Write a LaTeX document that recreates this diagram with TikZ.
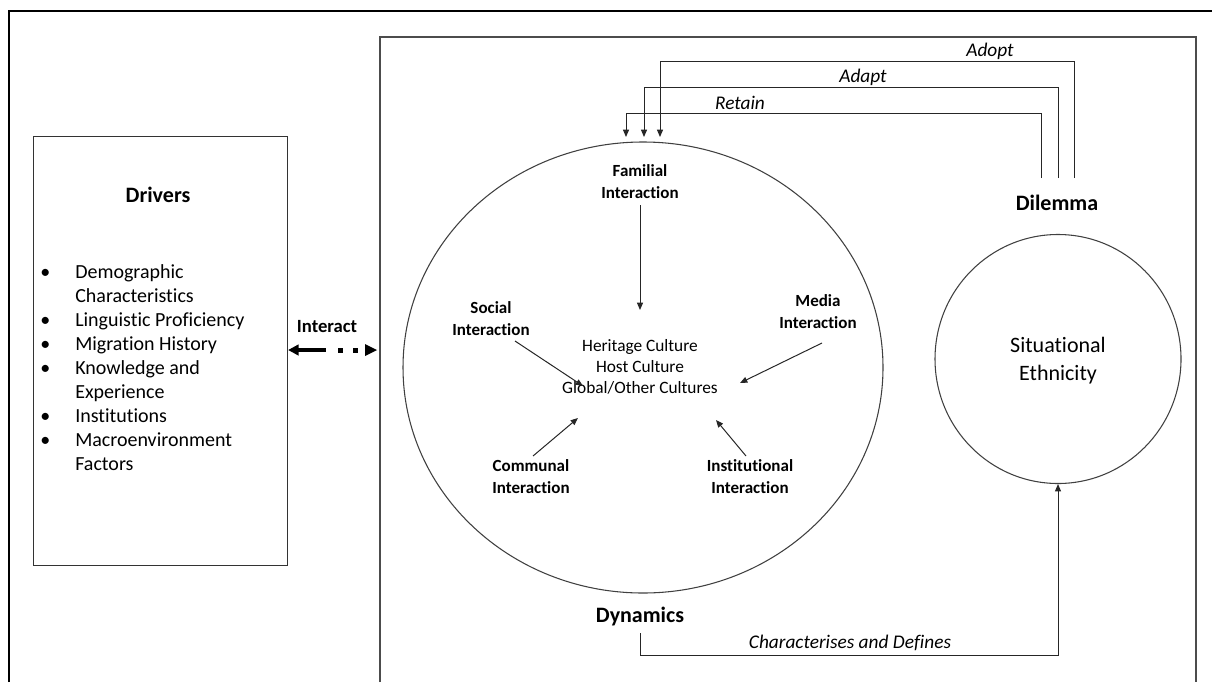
\documentclass[tikz,border=0pt]{standalone}
\usepackage{fontspec}
\setmainfont{Carlito}[Ligatures=NoCommon]
\usetikzlibrary{arrows.meta,shapes.geometric,calc}
\begin{document}
\begin{tikzpicture}[x=0.75pt,y=-0.75pt,
 line/.style={draw=black!85, line width=0.75pt},
 conn/.style={line, -{Triangle[length=5.5pt,width=4.5pt]}},
 title/.style={font=\fontsize{16.5}{20}\selectfont\bfseries, inner sep=0},
 item/.style={font=\fontsize{15}{18}\selectfont, anchor=base west, inner sep=0},
 lbl/.style={font=\fontsize{12.75}{16.5}\selectfont\bfseries, align=center, inner sep=0},
 ctr/.style={font=\fontsize{13}{16}\selectfont, align=center, inner sep=0},
 itl/.style={font=\fontsize{14.5}{17}\selectfont\itshape, inner sep=0},
]
\useasboundingbox (0,0) rectangle (1212,682);
% frames
\draw[line width=1.4pt] (9,682) -- (9,11) -- (1212,11);
\draw[draw=black!70, line width=0.8pt] (380,682) -- (380,37) -- (1196,37) -- (1196,682);
% drivers box
\node[draw=black!80, line width=0.8pt, minimum width=190.5pt, minimum height=321.75pt, inner sep=0, anchor=north west] (drivers) at (33,136) {};
\node[title] (drvt) at (158,195) {Drivers};
\foreach \t/\y [count=\i] in {Demographic/272, Characteristics/296, Linguistic Proficiency/320, Migration History/344, Knowledge and/368, Experience/392, Institutions/416, Macroenvironment/440, Factors/464}
  \node[item] (it\i) at (75,{\y+6}) {\t};
\foreach \y [count=\i] in {272,320,344,368,416,440}
  \node[item] (bu\i) at (40,{\y+6}) {•};
% interact
\node[font=\fontsize{14}{17}\selectfont\bfseries, inner sep=0] (inter) at (327,327) {Interact};
\coordinate (frameL) at (380,350);
\coordinate (dA) at (326,350);
\coordinate (dB) at (365,350);
\draw[line width=2.3pt, {Triangle[length=8pt,width=8pt]}-] (drivers.east |- dA) -- (dA);
\fill (337.5,347.5) rectangle +(5,5);
\fill (352.5,347.5) rectangle +(5,5);
\fill (dB) ++(0,-6) -- ($(frameL)+(-3,0)$) -- ($(dB)+(0,6)$) -- cycle;
% big ellipse
\node[draw=black!75, line width=0.8pt, ellipse, minimum width=360pt, minimum height=338.25pt, inner sep=0] (dyn) at (643,367.5) {};
\node[ctr] (cult) at (640,367) {Heritage Culture\\Host Culture\\Global/Other Cultures};
\node[lbl] (fam) at (640,182) {Familial\\Interaction};
\node[lbl] (soc) at (491,319) {Social\\Interaction};
\node[lbl] (med) at (818,312) {Media\\Interaction};
\node[lbl] (com) at (531,477) {Communal\\Interaction};
\node[lbl] (ins) at (750,477) {Institutional\\Interaction};
\coordinate (famE) at (640,310);
\coordinate (socE) at (583,386);
\coordinate (medE) at (740,383);
\coordinate (comE) at (578,418);
\coordinate (insE) at (716,420);
\draw[conn] (fam.south |- 0,205) -- (famE);
\draw[conn] (515,341) -- (socE);
\draw[conn] (822,343) -- (medE);
\draw[conn] (533,456) -- (comE);
\draw[conn] (746,456) -- (insE);
\node[title] (dyt) at (640,616) {Dynamics};
% situational ethnicity
\node[draw=black!75, line width=0.8pt, ellipse, minimum width=184.5pt, minimum height=186.75pt, inner sep=0] (sit) at (1058,359) {};
\node[font=\fontsize{16.5}{21}\selectfont, align=center, inner sep=0] (sitt) at (1058,361) {Situational\\Ethnicity};
\node[title] (dil) at (1057,203) {Dilemma};
% dilemma loops
\coordinate (rS) at (1041,178);
\coordinate (aS) at (1058,178);
\coordinate (oS) at (1074,178);
\coordinate (rE) at (626,137);
\coordinate (aE) at (644,137);
\coordinate (oE) at (660,137);
\draw[conn] (rS) -- (1041,113) -- (626,113) -- (rE);
\draw[conn] (aS) -- (1058,87) -- (644,87) -- (aE);
\draw[conn] (oS) -- (1074,61) -- (660,61) -- (oE);
\node[itl] (ret) at (740,103) {Retain};
\node[itl] (ada) at (863,77) {Adapt};
\node[itl] (ado) at (990,51) {Adopt};
% characterises
\draw[conn] (dyt.south |- 0,633) -- (640,655) -- (1058,655) -- (sit.south);
\node[itl] (chd) at (850,643) {Characterises and Defines};
\end{tikzpicture}
\end{document}
